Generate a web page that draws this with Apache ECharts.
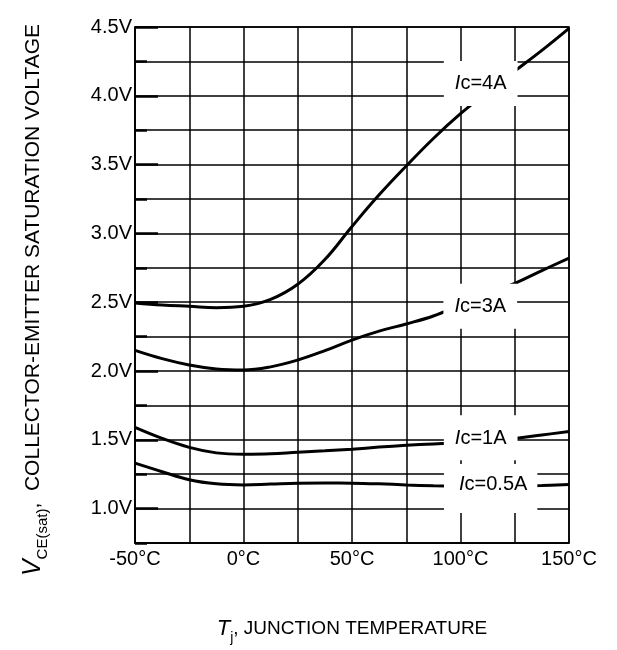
<!DOCTYPE html>
<html>
<head>
<meta charset="utf-8">
<script src="https://cdn.jsdelivr.net/npm/echarts@6/dist/echarts.min.js"></script>
<style>
  html, body { margin: 0; padding: 0; background: #fff; }
  #main { width: 617px; height: 650px; }
</style>
</head>
<body>
<div id="main"></div>
<script>
// junction temperature (°C) sample points
var temps = [-50, -37.5, -25, -12.5, 0, 12.5, 25, 37.5, 50, 62.5, 75, 87.5, 100, 112.5, 125, 137.5, 150];

// VCE(sat) in volts
var ic4A   = [2.495, 2.48, 2.47, 2.46, 2.47, 2.52, 2.63, 2.81, 3.05, 3.28, 3.49, 3.69, 3.87, 4.03, 4.18, 4.33, 4.49];
var ic3A   = [2.15, 2.09, 2.044, 2.015, 2.007, 2.03, 2.08, 2.148, 2.225, 2.29, 2.342, 2.40, 2.48, 2.56, 2.637, 2.73, 2.82];
var ic1A   = [1.59, 1.51, 1.445, 1.405, 1.395, 1.398, 1.41, 1.42, 1.432, 1.447, 1.46, 1.47, 1.48, 1.492, 1.51, 1.535, 1.56];
var ic05A  = [1.33, 1.268, 1.21, 1.18, 1.172, 1.178, 1.184, 1.186, 1.185, 1.18, 1.172, 1.166, 1.162, 1.16, 1.163, 1.168, 1.175];

// curve labels: text and [temp, volt] anchor (centre of the white box)
var labelTexts = ['4A', '3A', '1A', '0.5A'];
var labelPos = [[109.3, 4.09], [109.1, 2.47], [109.3, 1.515], [113.9, 1.146]];

var xTicks = [-50, 0, 50, 100, 150];
var yTicks = [1.0, 1.5, 2.0, 2.5, 3.0, 3.5, 4.0, 4.5];

var FONT = 'Liberation Sans, Arial, sans-serif';

function pairs(xs, ys) {
  var res = [];
  for (var i = 0; i < xs.length; i++) {
    res.push([xs[i], ys[i]]);
  }
  return res;
}

function curve(name, vals) {
  return {
    name: name,
    type: 'line',
    data: pairs(temps, vals),
    smooth: 0.4,
    symbol: 'none',
    lineStyle: { color: '#000', width: 3 },
    z: 3
  };
}

var labelData = [];
for (var i = 0; i < labelTexts.length; i++) {
  var item = { value: labelPos[i], txt: labelTexts[i] };
  if (labelTexts[i] == '0.5A') {
    // this box reaches further down, over the 1.0V line
    item.label = { padding: [10, 10, 19, 15] };
  }
  labelData.push(item);
}

var option = {
  backgroundColor: '#fff',
  animation: false,
  textStyle: { fontFamily: FONT },
  grid: {
    left: 135, right: 48, top: 27, bottom: 107,
    show: true, borderColor: '#000', borderWidth: 1.5,
    containLabel: false
  },
  xAxis: {
    type: 'value',
    min: -50, max: 150, interval: 25,
    axisLine: { show: true, onZero: false, lineStyle: { color: '#000', width: 1.5 } },
    axisTick: { show: false },
    splitLine: { show: true, lineStyle: { color: '#000', width: 1.5 } },
    axisLabel: {
      customValues: xTicks,
      color: '#000', fontSize: 20, fontFamily: FONT, margin: 6,
      formatter: function (v) { return v + '°C'; }
    },
    name: '{t|T}{s|j}{n|, JUNCTION TEMPERATURE}',
    nameLocation: 'middle',
    nameGap: 74,
    nameTextStyle: {
      rich: {
        t: { fontSize: 22, fontStyle: 'italic', color: '#000', fontFamily: FONT, lineHeight: 24 },
        s: { fontSize: 14, color: '#000', fontFamily: FONT, verticalAlign: 'bottom', lineHeight: 24, padding: [0, 0, -4, 0] },
        n: { fontSize: 19, color: '#000', fontFamily: FONT, lineHeight: 24 }
      }
    }
  },
  yAxis: [{
    type: 'value',
    min: 0.75, max: 4.5, interval: 0.25,
    axisLine: { show: true, onZero: false, lineStyle: { color: '#000', width: 1.5 } },
    axisTick: { show: true, inside: true, length: 12, lineStyle: { color: '#000', width: 2.5 } },
    splitLine: { show: true, lineStyle: { color: '#000', width: 1.5 } },
    axisLabel: {
      customValues: yTicks,
      color: '#000', fontSize: 20, fontFamily: FONT, margin: 3,
      formatter: function (v) { return v.toFixed(1) + 'V'; }
    },
    name: '{v|V}{s|CE(sat)}{n|,  COLLECTOR-EMITTER SATURATION VOLTAGE}',
    nameLocation: 'middle',
    nameRotate: 90,
    nameGap: 88,
    nameTextStyle: {
      padding: [0, 30, 0, 0],
      rich: {
        v: { fontSize: 25, fontStyle: 'italic', color: '#000', fontFamily: FONT, lineHeight: 28 },
        s: { fontSize: 15, color: '#000', fontFamily: FONT, verticalAlign: 'bottom', lineHeight: 28, padding: [0, 0, -3, 0] },
        n: { fontSize: 21, color: '#000', fontFamily: FONT, lineHeight: 28 }
      }
    }
  }, {
    // second axis only for the longer ticks at labelled values
    type: 'value',
    position: 'left',
    min: 0.75, max: 4.5, interval: 0.25,
    axisLine: { show: false, onZero: false },
    splitLine: { show: false },
    axisLabel: { show: false },
    axisTick: { show: true, inside: true, length: 23, customValues: yTicks, lineStyle: { color: '#000', width: 2.5 } }
  }],
  series: [
    curve('Ic=4A', ic4A),
    curve('Ic=3A', ic3A),
    curve('Ic=1A', ic1A),
    curve('Ic=0.5A', ic05A),
    {
      name: 'labels',
      type: 'scatter',
      data: labelData,
      symbolSize: 0,
      itemStyle: { opacity: 1 },
      z: 10,
      label: {
        show: true,
        position: 'inside',
        backgroundColor: '#fff',
        opacity: 1,
        padding: [13, 11, 12, 11],
        formatter: function (p) { return '{i|I}{c|c=' + p.data.txt + '}'; },
        rich: {
          i: { fontSize: 20, fontStyle: 'italic', color: '#000', fontFamily: FONT },
          c: { fontSize: 20, color: '#000', fontFamily: FONT }
        }
      }
    }
  ]
};

var myChart = echarts.init(document.getElementById('main'));
myChart.setOption(option);
</script>
</body>
</html>
